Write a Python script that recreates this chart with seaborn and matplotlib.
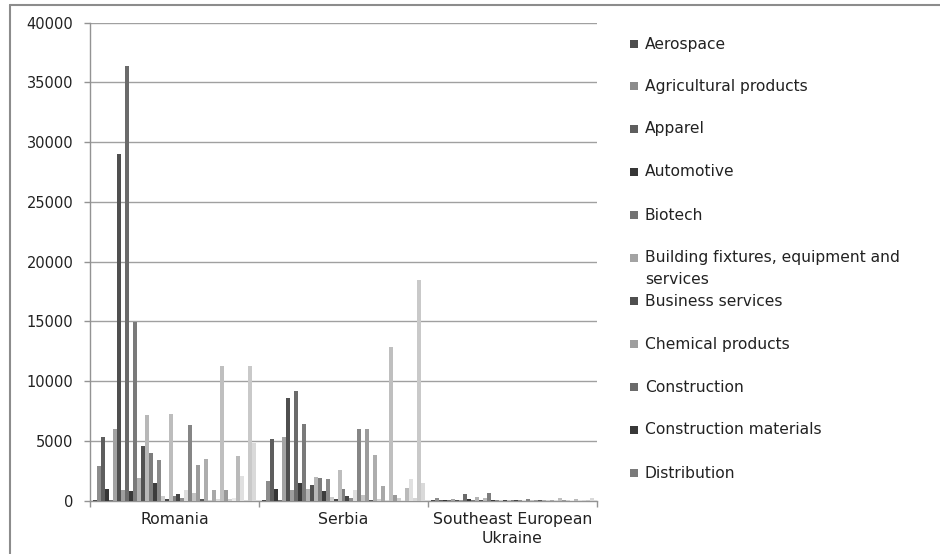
import matplotlib
matplotlib.use("Agg")
import matplotlib.pyplot as plt
import seaborn as sns
import pandas as pd
from matplotlib.patches import Rectangle
from matplotlib.lines import Line2D

countries = ["Romania", "Serbia", "Southeast European\nUkraine"]

clusters = [
    "Aerospace", "Agricultural products", "Apparel", "Automotive", "Biotech",
    "Building fixtures, equipment and\nservices", "Business services", "Chemical products",
    "Construction", "Construction materials", "Distribution",
    "Education and knowledge creation", "Entertainment", "Financial services", "Fishing",
    "Footwear", "Forest products", "Furniture", "Heavy construction services",
    "Heavy machinery", "Hospitality and tourism", "Information technology", "Jewelry",
    "Leather", "Lighting", "Lumber", "Medical devices", "Metal manufacturing",
    "Motor driven products", "Oil and gas", "Paper", "Plastics", "Power generation",
    "Prefabricated enclosures", "Processed food", "Production technology", "Publishing",
    "Sporting goods", "Textiles", "Tobacco", "Transportation and logistics",
]

romania = [100, 2900, 5350, 1000, 30, 6000, 29050, 870, 36400, 850, 14950,
           1900, 4550, 7150, 3980, 1450, 3400, 400, 170, 7250, 360, 580, 250,
           920, 6300, 640, 2970, 170, 3475, 80, 860, 170, 11300, 860, 170, 200,
           3780, 2060, 50, 11250, 4860]
serbia = [50, 1670, 5200, 945, 50, 5310, 8560, 860, 9200, 1500, 6420,
          970, 1300, 1970, 1920, 780, 1780, 330, 170, 2530, 970, 390, 220,
          890, 6030, 445, 6030, 80, 3860, 140, 1250, 50, 12900, 445, 200, 80,
          1060, 1800, 200, 18500, 1450]
ukraine = [50, 190, 60, 60, 60, 110, 60, 60, 530, 110, 100,
           300, 100, 190, 640, 40, 50, 50, 40, 50, 40, 40, 60,
           30, 150, 50, 60, 40, 60, 50, 80, 40, 250, 60, 80, 50,
           150, 60, 40, 60, 250]

colors = ["#4d4d4d", "#8c8c8c", "#5e5e5e", "#363636", "#737373", "#a3a3a3", "#4f4f4f",
          "#9e9e9e", "#6b6b6b", "#383838", "#7a7a7a", "#b3b3b3", "#525252", "#b8b8b8",
          "#7d7d7d", "#3d3d3d", "#8a8a8a", "#cccccc", "#474747", "#bdbdbd", "#7f7f7f",
          "#454545", "#8f8f8f", "#dedede", "#858585", "#c4c4c4", "#9c9c9c", "#575757",
          "#adadad", "#d1d1d1", "#a8a8a8", "#dbdbdb", "#bfbfbf", "#999999", "#cfcfcf",
          "#ebebeb", "#bababa", "#e0e0e0", "#d6d6d6", "#c9c9c9", "#d9d9d9"]

rows = []
for vals, c in zip([romania, serbia, ukraine], countries):
    for name, v in zip(clusters, vals):
        rows.append({"country": c, "cluster": name, "value": v})
df = pd.DataFrame(rows)

sns.set_style("white")
plt.rcParams["font.family"] = ["DejaVu Sans"]

W, H = 940, 554
fig = plt.figure(figsize=(W / 100, H / 100), dpi=100)
ax = fig.add_axes([90 / W, 1 - 500.7 / H, (597 - 90) / W, (500.7 - 22.7) / H])

sns.barplot(data=df, x="country", y="value", hue="cluster", order=countries,
            hue_order=clusters, palette=colors, width=41 / 42.5, gap=0,
            saturation=1, linewidth=0, legend=False, ax=ax, zorder=3)

ax.set_ylim(0, 40000)
ax.set_xlim(-0.5, 2.5)
ax.set_yticks(range(0, 40001, 5000))
ax.yaxis.grid(True, color="#a0a0a0", linewidth=1.0, zorder=0)
ax.set_axisbelow(True)
for s in ["top", "right"]:
    ax.spines[s].set_visible(False)
for s in ["left", "bottom"]:
    ax.spines[s].set_color("#939393")
    ax.spines[s].set_linewidth(1.0)
ax.set_xlabel("")
ax.set_ylabel("")
ax.tick_params(axis="y", which="major", length=4, width=1, color="#939393",
               direction="out", pad=8, labelsize=10.5, labelcolor="#222222", left=True)
ax.tick_params(axis="x", which="major", length=0, pad=8, labelsize=11.3,
               labelcolor="#222222")
ax.set_xticks([-0.5, 0.5, 1.5, 2.5], minor=True)
ax.tick_params(axis="x", which="minor", length=4, width=1, color="#939393",
               direction="out", bottom=True)
ax.set_xticks(range(len(countries)))
ax.set_xticklabels(countries, linespacing=1.35)

# legend (first 11 entries, as visible in the reference)
entry_y = [44, 86, 129, 172, 215, 258, 301, 344, 387, 430, 473]
for i, y in enumerate(entry_y):
    fig.patches.append(Rectangle((630 / W, 1 - (y + 4) / H), 8 / W, 8 / H,
                                 transform=fig.transFigure, facecolor=colors[i],
                                 edgecolor="none"))
    if "\n" in clusters[i]:
        fig.text(645 / W, 1 - (y - 8) / H, clusters[i], fontsize=11.2, color="#222222",
                 va="top", ha="left", linespacing=1.55)
    else:
        fig.text(645 / W, 1 - y / H, clusters[i], fontsize=11.2, color="#222222",
                 va="center", ha="left")

# outer chart border
fig.add_artist(Line2D([10 / W, 10 / W], [0, 1 - 5 / H], color="#8c8c8c",
                      linewidth=1.5, transform=fig.transFigure))
fig.add_artist(Line2D([10 / W, 1], [1 - 5 / H, 1 - 5 / H], color="#8c8c8c",
                      linewidth=1.5, transform=fig.transFigure))

fig.savefig("out.png", dpi=100)
